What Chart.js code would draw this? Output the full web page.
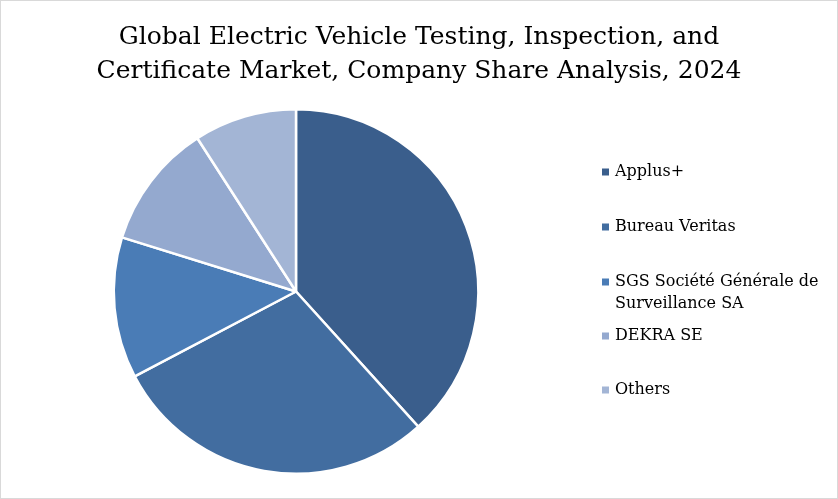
<!DOCTYPE html>
<html>
<head>
<meta charset="utf-8">
<script src="https://cdn.jsdelivr.net/npm/chart.js@4/dist/chart.umd.min.js"></script>
<style>
  html, body { margin: 0; padding: 0; background: #fff; }
  #wrap { width: 838px; height: 499px; position: relative; }
</style>
</head>
<body>
<div id="wrap"><canvas id="pie-chart" width="838" height="499"></canvas></div>
<script>
// company shares (%)
const companies = ['Applus+', 'Bureau Veritas', 'SGS Société Générale de Surveillance SA', 'DEKRA SE', 'Others'];
const shares = [38.3, 29.0, 12.5, 11.1, 9.1];
const sliceColors = ['#3a5e8c', '#426da0', '#4a7cb6', '#94a9cf', '#a3b5d5'];
const titleLines = ['Global Electric Vehicle Testing, Inspection, and', 'Certificate Market, Company Share Analysis, 2024'];

const serif = "'DejaVu Serif', Georgia, serif";

// title + legend + frame drawn by hand (chart.js title gets squeezed by the padding)
const sideStuff = {
  id: 'sideStuff',
  afterDraw(chart) {
    const ctx = chart.ctx;
    ctx.save();
    ctx.fillStyle = '#000';
    ctx.textBaseline = 'middle';

    // title
    ctx.textAlign = 'center';
    ctx.font = '25px ' + serif;
    ctx.fillText(titleLines[0], 419, 37);
    ctx.fillText(titleLines[1], 419, 71);

    // legend
    ctx.textAlign = 'left';
    const labels = chart.data.labels;
    const colors = chart.data.datasets[0].backgroundColor;
    const x0 = 602, textX = 615, maxW = 205;
    const rows = [172, 227, 282, 336, 390];
    ctx.font = '16px ' + serif;
    labels.forEach((lab, i) => {
      const words = lab.split(' ');
      const lines = [];
      let cur = '';
      words.forEach(w => {
        const t = cur ? cur + ' ' + w : w;
        if (ctx.measureText(t).width > maxW && cur) { lines.push(cur); cur = w; }
        else cur = t;
      });
      lines.push(cur);
      const y = rows[i];
      ctx.fillStyle = colors[i];
      ctx.fillRect(x0, y - 3.5, 7, 7);
      ctx.fillStyle = '#000';
      lines.forEach((ln, j) => ctx.fillText(ln, textX, y + j * 22));
    });

    // frame
    ctx.strokeStyle = '#d9d9d9';
    ctx.lineWidth = 1;
    ctx.strokeRect(0.5, 0.5, chart.width - 1, chart.height - 1);
    ctx.restore();
  }
};

const ctx = document.getElementById('pie-chart').getContext('2d');
const myChart = new Chart(ctx, {
  type: 'pie',
  data: {
    labels: companies,
    datasets: [{
      data: shares,
      backgroundColor: sliceColors,
      borderColor: '#ffffff',
      borderWidth: 2.5
    }]
  },
  options: {
    responsive: false,
    animation: false,
    layout: { padding: { left: 112, right: 358, bottom: 24, top: 108 } },
    plugins: {
      legend: { display: false },
      tooltip: { enabled: false },
      title: { display: false }
    }
  },
  plugins: [sideStuff]
});
</script>
</body>
</html>
